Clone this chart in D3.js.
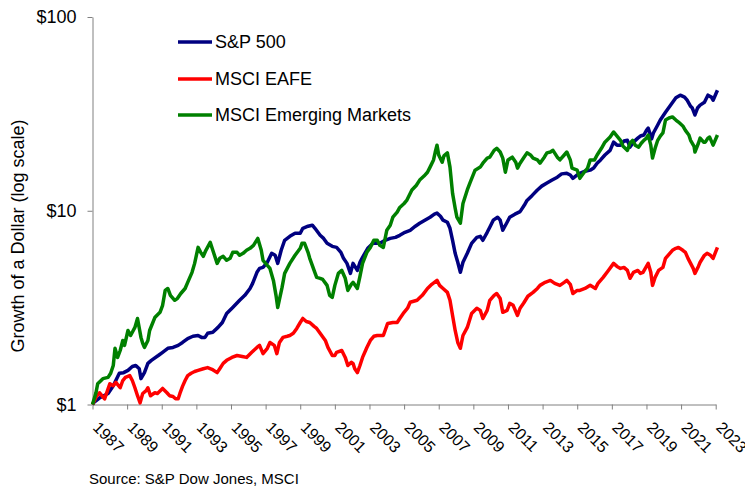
<!DOCTYPE html>
<html>
<head>
<meta charset="utf-8">
<script src="https://cdn.jsdelivr.net/npm/d3@7"></script>
<style>
  body { margin: 0; background: #fff; }
  text { font-family: "Liberation Sans", Arial, sans-serif; fill: #000; }
  .axis path, .axis line { stroke: #808080; stroke-width: 1; }
</style>
</head>
<body>
<div id="chart"></div>
<script>
// series names and colours
const seriesNames = ['S&P 500', 'MSCI EAFE', 'MSCI Emerging Markets'];
const seriesColors = ['#000080', '#ff0000', '#008000'];

// x tick labels (every two years)
const yearTicks = [1987, 1989, 1991, 1993, 1995, 1997, 1999, 2001, 2003, 2005,
  2007, 2009, 2011, 2013, 2015, 2017, 2019, 2021, 2023];
const dollarTicks = [1, 10, 100];

// growth of a dollar, [axis year, value]
const sp500 = [
  [1987.0,1.00],[1987.1,1.03],[1987.4,1.08],[1987.9,1.14],[1988.2,1.25],[1988.55,1.45],
  [1988.8,1.46],[1989.05,1.50],[1989.3,1.57],[1989.5,1.59],[1989.7,1.53],[1989.8,1.36],
  [1990.0,1.46],[1990.2,1.63],[1990.4,1.69],[1990.8,1.79],[1991.05,1.86],[1991.35,1.95],
  [1991.65,1.97],[1991.95,2.02],[1992.2,2.09],[1992.5,2.19],[1992.8,2.25],[1993.1,2.27],
  [1993.3,2.22],[1993.5,2.22],[1993.65,2.33],[1993.95,2.36],[1994.25,2.50],[1994.5,2.65],
  [1994.75,2.95],[1995.1,3.17],[1995.5,3.45],[1995.8,3.66],[1996.1,3.97],[1996.25,4.22],
  [1996.5,4.81],[1996.65,5.04],[1996.85,5.10],[1997.1,5.42],[1997.35,6.03],[1997.55,5.89],
  [1997.7,5.35],[1997.9,6.25],[1998.1,7.04],[1998.4,7.38],[1998.7,7.65],[1999.0,7.65],
  [1999.15,8.12],[1999.45,8.32],[1999.7,8.42],[1999.85,8.12],[2000.15,7.47],[2000.35,7.20],
  [2000.55,6.79],[2000.85,6.55],[2001.1,6.47],[2001.35,6.10],[2001.5,5.68],[2001.7,5.35],
  [2001.9,4.75],[2002.05,5.35],[2002.3,4.92],[2002.45,5.42],[2002.6,5.75],[2002.9,6.40],
  [2003.2,6.79],[2003.6,6.79],[2003.9,7.04],[2004.2,7.20],[2004.5,7.29],[2004.75,7.47],
  [2005.05,7.74],[2005.35,7.93],[2005.65,8.32],[2005.9,8.62],[2006.2,8.94],[2006.5,9.26],
  [2006.75,9.60],[2006.9,9.72],[2007.1,9.37],[2007.25,8.94],[2007.5,8.72],[2007.65,8.12],
  [2007.8,7.04],[2007.95,6.03],[2008.1,5.42],[2008.25,4.81],[2008.4,5.42],[2008.65,6.03],
  [2008.9,6.79],[2009.2,7.29],[2009.4,7.38],[2009.55,7.04],[2009.8,7.74],[2009.95,8.22],
  [2010.15,8.94],[2010.4,9.26],[2010.55,8.94],[2010.7,7.93],[2010.95,8.72],[2011.1,9.26],
  [2011.4,9.60],[2011.7,9.90],[2011.95,10.7],[2012.1,11.3],[2012.4,12.0],[2012.7,12.8],
  [2012.95,13.4],[2013.25,13.9],[2013.55,14.4],[2013.85,14.9],[2014.1,15.5],[2014.4,15.6],
  [2014.6,15.3],[2014.75,14.7],[2015.0,15.3],[2015.15,15.6],[2015.45,16.0],[2015.75,16.2],
  [2015.95,16.6],[2016.15,17.6],[2016.35,18.3],[2016.6,19.4],[2016.9,20.5],[2017.1,22.6],
  [2017.3,21.8],[2017.5,21.8],[2017.7,22.9],[2017.9,23.1],[2018.05,21.3],[2018.25,22.6],
  [2018.5,23.7],[2018.65,24.3],[2018.85,24.6],[2019.0,26.0],[2019.1,26.7],[2019.3,23.5],
  [2019.4,25.2],[2019.65,27.7],[2019.8,29.4],[2020.1,32.2],[2020.4,35.1],[2020.7,38.3],
  [2020.95,39.5],[2021.2,38.6],[2021.35,37.2],[2021.55,34.6],[2021.65,33.9],[2021.8,31.2],
  [2021.95,33.9],[2022.1,35.1],[2022.35,36.3],[2022.55,39.5],[2022.75,38.6],[2022.85,37.2],
  [2023.1,41.9]
];

const eafe = [
  [1987.0,1.00],[1987.2,1.09],[1987.4,1.15],[1987.7,1.07],[1988.0,1.28],[1988.2,1.25],
  [1988.35,1.30],[1988.6,1.22],[1988.75,1.33],[1988.9,1.38],[1989.15,1.41],[1989.3,1.33],
  [1989.45,1.22],[1989.6,1.11],[1989.75,1.02],[1989.9,1.14],[1990.1,1.18],[1990.2,1.22],
  [1990.35,1.11],[1990.6,1.15],[1990.75,1.14],[1991.05,1.21],[1991.3,1.15],[1991.45,1.11],
  [1991.65,1.10],[1991.8,1.07],[1991.95,1.07],[1992.05,1.14],[1992.2,1.24],[1992.35,1.33],
  [1992.5,1.41],[1992.7,1.45],[1992.9,1.48],[1993.1,1.50],[1993.4,1.53],[1993.65,1.55],
  [1993.9,1.52],[1994.2,1.46],[1994.35,1.53],[1994.55,1.63],[1994.75,1.69],[1995.05,1.75],
  [1995.35,1.79],[1995.65,1.77],[1995.9,1.75],[1996.2,1.86],[1996.5,1.97],[1996.65,2.02],
  [1996.85,1.83],[1997.1,1.95],[1997.25,2.09],[1997.5,2.02],[1997.65,1.83],[1997.8,2.09],
  [1998.0,2.22],[1998.25,2.25],[1998.4,2.27],[1998.6,2.33],[1998.8,2.47],[1999.0,2.65],
  [1999.15,2.78],[1999.35,2.68],[1999.55,2.65],[1999.8,2.53],[1999.95,2.47],[2000.2,2.30],
  [2000.45,2.14],[2000.6,1.97],[2000.85,1.79],[2001.0,1.79],[2001.1,1.86],[2001.4,1.90],
  [2001.6,1.75],[2001.75,1.59],[2001.95,1.65],[2002.05,1.63],[2002.15,1.53],[2002.3,1.46],
  [2002.45,1.59],[2002.6,1.75],[2002.85,1.97],[2003.05,2.14],[2003.25,2.25],[2003.45,2.27],
  [2003.8,2.27],[2004.05,2.62],[2004.35,2.65],[2004.6,2.65],[2004.75,2.78],[2004.95,2.95],
  [2005.2,3.14],[2005.35,3.37],[2005.75,3.45],[2006.05,3.66],[2006.35,3.97],[2006.6,4.17],
  [2006.9,4.37],[2007.05,4.12],[2007.25,3.97],[2007.5,3.79],[2007.65,3.45],[2007.8,2.88],
  [2007.95,2.41],[2008.1,2.09],[2008.25,1.95],[2008.4,2.27],[2008.65,2.50],[2008.9,2.95],
  [2009.2,3.14],[2009.4,3.06],[2009.55,2.78],[2009.8,3.06],[2009.95,3.45],[2010.2,3.66],
  [2010.35,3.74],[2010.55,3.52],[2010.7,2.99],[2010.95,3.06],[2011.1,3.33],[2011.3,3.25],
  [2011.55,2.88],[2011.7,3.14],[2011.9,3.33],[2012.15,3.62],[2012.45,3.79],[2012.7,3.97],
  [2012.85,4.12],[2013.15,4.27],[2013.45,4.37],[2013.7,4.22],[2014.0,4.12],[2014.25,4.27],
  [2014.4,4.37],[2014.6,4.17],[2014.75,3.74],[2015.0,3.88],[2015.15,3.88],[2015.45,3.97],
  [2015.75,4.12],[2016.05,3.97],[2016.2,4.22],[2016.5,4.53],[2016.8,4.92],[2017.1,5.35],
  [2017.3,5.16],[2017.5,5.04],[2017.7,5.10],[2017.9,4.92],[2018.05,4.48],[2018.25,4.81],
  [2018.5,4.92],[2018.65,4.75],[2018.8,4.81],[2019.0,5.16],[2019.1,5.35],[2019.25,4.81],
  [2019.35,4.12],[2019.5,4.53],[2019.7,4.92],[2019.95,5.10],[2020.1,5.68],[2020.35,6.03],
  [2020.5,6.25],[2020.7,6.40],[2020.85,6.47],[2021.1,6.25],[2021.25,6.10],[2021.4,5.68],
  [2021.55,5.35],[2021.7,5.04],[2021.8,4.75],[2022.0,5.16],[2022.1,5.42],[2022.35,5.89],
  [2022.5,6.03],[2022.7,5.89],[2022.85,5.68],[2023.1,6.47]
];

const emerging = [
  [1987.0,1.00],[1987.2,1.15],[1987.3,1.28],[1987.6,1.36],[1987.9,1.38],[1988.05,1.45],
  [1988.2,1.59],[1988.3,1.95],[1988.45,1.75],[1988.6,1.90],[1988.75,2.14],[1988.85,2.02],
  [1989.05,2.41],[1989.2,2.27],[1989.45,2.50],[1989.6,2.78],[1989.8,2.22],[1989.9,2.07],
  [1990.0,1.97],[1990.2,2.14],[1990.3,2.41],[1990.6,2.81],[1990.9,2.99],[1991.05,3.25],
  [1991.2,3.88],[1991.35,3.97],[1991.5,3.66],[1991.75,3.45],[1991.9,3.52],[1992.1,3.74],
  [1992.35,3.97],[1992.5,4.27],[1992.75,4.81],[1992.9,5.35],[1993.1,6.47],[1993.25,6.10],
  [1993.4,5.82],[1993.55,6.25],[1993.8,6.87],[1993.95,6.25],[1994.2,5.35],[1994.35,5.68],
  [1994.55,5.82],[1994.75,5.55],[1994.95,5.68],[1995.1,6.10],[1995.35,6.10],[1995.5,5.89],
  [1995.7,6.03],[1995.9,6.25],[1996.1,6.40],[1996.3,6.63],[1996.55,7.20],[1996.75,6.25],
  [1996.85,5.55],[1997.1,5.22],[1997.25,5.04],[1997.45,4.37],[1997.6,3.66],[1997.7,3.17],
  [1997.95,4.02],[1998.1,4.75],[1998.4,5.35],[1998.7,5.89],[1999.0,6.40],[1999.1,6.79],
  [1999.25,6.79],[1999.45,6.10],[1999.55,5.68],[1999.8,4.92],[1999.95,4.53],[2000.15,4.48],
  [2000.3,4.42],[2000.55,4.12],[2000.7,3.66],[2000.85,3.57],[2001.0,4.12],[2001.2,4.75],
  [2001.4,4.92],[2001.6,4.48],[2001.75,3.88],[2001.95,4.17],[2002.05,4.27],[2002.3,3.97],
  [2002.45,4.59],[2002.6,5.35],[2002.85,6.10],[2003.05,6.47],[2003.25,7.04],[2003.45,7.04],
  [2003.6,6.63],[2003.8,6.47],[2004.0,7.93],[2004.2,8.42],[2004.35,9.26],[2004.6,9.83],
  [2004.75,10.4],[2005.0,10.9],[2005.15,11.3],[2005.45,12.8],[2005.7,13.5],[2005.9,14.4],
  [2006.15,15.1],[2006.35,15.8],[2006.5,16.8],[2006.7,18.3],[2006.8,20.1],[2006.9,21.8],
  [2007.0,19.4],[2007.2,17.8],[2007.3,19.2],[2007.5,19.9],[2007.65,16.8],[2007.8,12.3],
  [2007.95,10.3],[2008.05,9.26],[2008.25,8.62],[2008.4,10.9],[2008.65,12.8],[2008.8,13.9],
  [2009.1,16.2],[2009.4,16.8],[2009.55,17.6],[2009.8,18.7],[2009.95,18.9],[2010.2,20.5],
  [2010.35,21.0],[2010.55,20.1],[2010.7,18.7],[2010.85,15.8],[2011.0,18.3],[2011.25,18.9],
  [2011.45,17.8],[2011.55,16.6],[2011.7,17.6],[2011.9,18.7],[2012.1,19.9],[2012.3,19.4],
  [2012.45,18.7],[2012.7,18.3],[2012.85,17.6],[2013.1,18.9],[2013.25,19.9],[2013.45,20.1],
  [2013.6,20.5],[2013.85,18.9],[2014.0,18.3],[2014.25,19.4],[2014.4,20.1],[2014.6,18.3],
  [2014.7,16.6],[2015.0,16.2],[2015.15,14.7],[2015.4,15.8],[2015.6,16.6],[2015.75,18.3],
  [2016.0,18.3],[2016.15,19.4],[2016.4,21.0],[2016.6,22.6],[2016.9,24.0],[2017.1,25.5],
  [2017.3,24.3],[2017.5,23.1],[2017.65,21.5],[2017.9,20.5],[2018.05,22.3],[2018.2,23.1],
  [2018.35,21.8],[2018.55,21.3],[2018.7,22.3],[2018.85,23.1],[2019.0,23.7],[2019.1,24.6],
  [2019.25,21.8],[2019.35,18.7],[2019.5,21.0],[2019.65,23.1],[2019.8,24.3],[2019.95,25.2],
  [2020.1,29.4],[2020.3,30.1],[2020.5,30.5],[2020.7,29.4],[2020.85,28.7],[2021.1,27.4],
  [2021.25,26.0],[2021.45,24.6],[2021.55,23.1],[2021.75,21.5],[2021.8,20.1],[2022.0,22.3],
  [2022.1,23.7],[2022.3,22.6],[2022.4,22.6],[2022.55,23.7],[2022.65,24.0],[2022.85,21.8],
  [2023.1,24.6]
];

const seriesData = [sp500, eafe, emerging];

// chart static params
const width = 745, height = 487;
const plot = {left: 92.5, right: 715.7, top: 17, bottom: 404.5};

const svg = d3.select('#chart').append('svg')
  .attr('width', width)
  .attr('height', height);

// scales
const xScale = d3.scaleLinear()
  .domain([1987, 2023])
  .range([plot.left, plot.right]);

const yScale = d3.scaleLog()
  .domain([1, 100])
  .range([plot.bottom, plot.top]);

// y axis
const yAxisSvg = svg.append('g')
  .attr('class', 'axis')
  .attr('transform', `translate(${plot.left},0)`)
  .call(d3.axisLeft(yScale)
    .tickValues(dollarTicks)
    .tickFormat(d => '$' + d)
    .tickSize(5)
    .tickSizeOuter(0)
    .tickPadding(11));
yAxisSvg.selectAll('text')
  .style('font-size', '18px')
  .attr('fill', '#000');

// x axis
const xAxisSvg = svg.append('g')
  .attr('class', 'axis')
  .attr('transform', `translate(0,${plot.bottom})`)
  .call(d3.axisBottom(xScale)
    .tickValues(yearTicks)
    .tickFormat(d3.format('d'))
    .tickSize(5)
    .tickSizeOuter(0));
xAxisSvg.selectAll('text')
  .style('font-size', '16px')
  .attr('fill', '#000')
  .attr('text-anchor', 'start')
  .attr('dy', null)
  .attr('y', 0)
  .attr('transform', 'translate(-1,24) rotate(45)');

// y label
svg.append('text')
  .attr('text-anchor', 'middle')
  .attr('transform', 'translate(24,236) rotate(-90)')
  .style('font-size', '18px')
  .text('Growth of a Dollar (log scale)');

// lines
const line = d3.line()
  .x(d => xScale(d[0]))
  .y(d => yScale(d[1]));

seriesData.forEach((s, i) => {
  svg.append('path')
    .datum(s)
    .attr('fill', 'none')
    .attr('stroke', seriesColors[i])
    .attr('stroke-width', 3.5)
    .attr('stroke-linejoin', 'round')
    .attr('d', line);
});

// legend
const legendY = [42, 79, 115];
const legend = svg.append('g');
seriesNames.forEach((name, i) => {
  legend.append('line')
    .attr('x1', 178).attr('x2', 212)
    .attr('y1', legendY[i]).attr('y2', legendY[i])
    .attr('stroke', seriesColors[i])
    .attr('stroke-width', 3.5);
  legend.append('text')
    .attr('x', 215)
    .attr('y', legendY[i])
    .attr('dy', '0.35em')
    .style('font-size', '18px')
    .text(name);
});

// source
svg.append('text')
  .attr('x', 89)
  .attr('y', 484)
  .style('font-size', '15px')
  .text('Source: S&P Dow Jones, MSCI');
</script>
</body>
</html>
